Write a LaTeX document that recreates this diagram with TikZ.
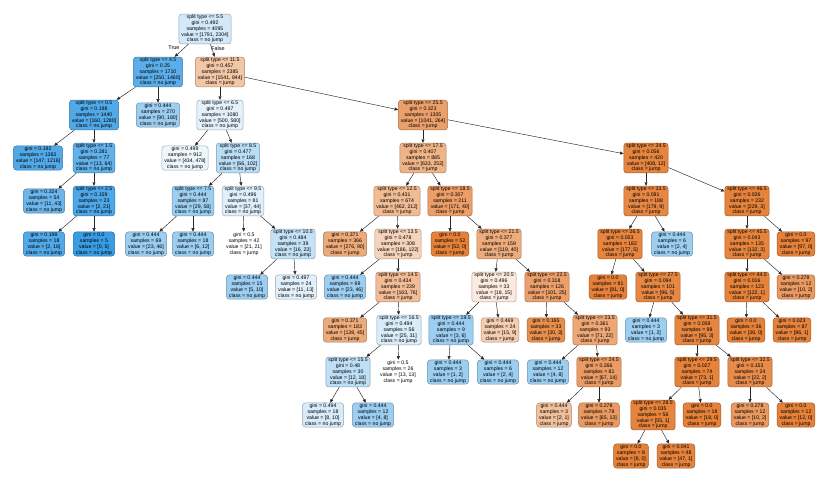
\documentclass[tikz,border=0pt]{standalone}
\usepackage{fontspec}
\setmainfont{Liberation Sans}
\usetikzlibrary{arrows.meta}
\definecolor{jc}{RGB}{229,129,57}
\definecolor{nc}{RGB}{57,157,229}
\newcommand\splitT[5]{split type <= #1\\gini = #2\\samples = #3\\value = [#4]\\class = #5}
\newcommand\leafT[4]{gini = #1\\samples = #2\\value = [#3]\\class = #4}
\tikzset{
  tn/.style={rectangle, rounded corners=3bp, align=center, font=\fontsize{5.2}{5.8}\selectfont, inner xsep=2.5bp, inner ysep=1bp, line width=0.5bp},
  jmp/.style={tn, fill=jc!#1!white, draw=jc!#1!white!70!black},
  nj/.style={tn, fill=nc!#1!white, draw=nc!#1!white!70!black},
  wn/.style={tn, fill=white, draw=white},
  ed/.style={-{Triangle[length=3.5bp,width=3bp]}, draw=black!85, line width=0.45bp},
  lab/.style={font=\fontsize{5.5}{6}\selectfont, inner sep=0pt},
}
\begin{document}
\begin{tikzpicture}[x=1bp,y=-1bp]
\useasboundingbox[fill=white] (0,0) rectangle (830,482);
% row 0
\node[nj=22] (root) at (205,29) {\splitT{5.5}{0.492}{4095}{1791, 2304}{no jump}};
% row 1
\node[nj=83] (n45) at (158,72) {\splitT{4.5}{0.25}{1710}{250, 1460}{no jump}};
\node[jmp=45] (n115) at (220,72) {\splitT{11.5}{0.457}{2385}{1541, 844}{jump}};
% row 2
\node[nj=88] (n05) at (94,115) {\splitT{0.5}{0.198}{1440}{160, 1280}{no jump}};
\node[nj=50] (l270) at (158,115) {\leafT{0.444}{270}{90, 180}{no jump}};
\node[nj=14] (n65) at (220,115) {\splitT{6.5}{0.497}{1080}{500, 580}{no jump}};
\node[jmp=75] (n255) at (423,115) {\splitT{25.5}{0.323}{1305}{1041, 264}{jump}};
% row 3
\node[nj=88] (l1363) at (38,158) {\leafT{0.192}{1363}{147, 1216}{no jump}};
\node[nj=80] (n15) at (94,158) {\splitT{1.5}{0.281}{77}{13, 64}{no jump}};
\node[nj=9] (l912) at (185,158) {\leafT{0.499}{912}{434, 478}{no jump}};
\node[nj=35] (n85) at (238,158) {\splitT{8.5}{0.477}{168}{66, 102}{no jump}};
\node[jmp=60] (n175) at (423,158) {\splitT{17.5}{0.407}{885}{633, 252}{jump}};
\node[jmp=97] (n345) at (646,158) {\splitT{34.5}{0.056}{420}{408, 12}{jump}};
% row 4
\node[nj=74] (l54) at (44,201) {\leafT{0.324}{54}{11, 43}{no jump}};
\node[nj=90] (n25) at (94,201) {\splitT{2.5}{0.159}{23}{2, 21}{no jump}};
\node[nj=50] (n75) at (193,201) {\splitT{7.5}{0.444}{87}{29, 58}{no jump}};
\node[nj=16] (n95) at (243,201) {\splitT{9.5}{0.496}{81}{37, 44}{no jump}};
\node[jmp=54] (n125) at (397,201) {\splitT{12.5}{0.431}{674}{462, 212}{jump}};
\node[jmp=77] (n185) at (450,201) {\splitT{18.5}{0.307}{211}{171, 40}{jump}};
\node[jmp=95] (n335) at (646,201) {\splitT{33.5}{0.091}{188}{179, 9}{jump}};
\node[jmp=99] (n465) at (747,201) {\splitT{46.5}{0.026}{232}{229, 3}{jump}};
% row 5
\node[nj=88] (l18a) at (44,244) {\leafT{0.198}{18}{2, 16}{no jump}};
\node[nj=100] (l5) at (94,244) {\leafT{0.0}{5}{0, 5}{no jump}};
\node[nj=50] (l69a) at (146,244) {\leafT{0.444}{69}{23, 46}{no jump}};
\node[nj=50] (l18b) at (193,244) {\leafT{0.444}{18}{6, 12}{no jump}};
\node[wn] (l42) at (244,244) {\leafT{0.5}{42}{21, 21}{jump}};
\node[nj=30] (n105) at (293,244) {\splitT{10.5}{0.484}{39}{16, 23}{no jump}};
\node[jmp=67] (l366) at (345,244) {\leafT{0.371}{366}{276, 90}{jump}};
\node[jmp=34] (n135) at (398,244) {\splitT{13.5}{0.478}{308}{186, 122}{jump}};
\node[jmp=100] (l52) at (450,244) {\leafT{0.0}{52}{52, 0}{jump}};
\node[jmp=66] (n215) at (499,244) {\splitT{21.5}{0.377}{159}{119, 40}{jump}};
\node[jmp=97] (n265) at (620,244) {\splitT{26.5}{0.053}{182}{177, 5}{jump}};
\node[nj=50] (l6b) at (672,244) {\leafT{0.444}{6}{2, 4}{no jump}};
\node[jmp=98] (n455) at (747,244) {\splitT{45.5}{0.043}{135}{132, 3}{jump}};
\node[jmp=100] (l97) at (796,244) {\leafT{0.0}{97}{97, 0}{jump}};
% row 6
\node[nj=50] (l15) at (247,287) {\leafT{0.444}{15}{5, 10}{no jump}};
\node[nj=15] (l24) at (296,287) {\leafT{0.497}{24}{11, 13}{no jump}};
\node[nj=50] (l69b) at (345,287) {\leafT{0.444}{69}{23, 46}{no jump}};
\node[jmp=53] (n145) at (398,287) {\splitT{14.5}{0.434}{239}{163, 76}{jump}};
\node[jmp=17] (n205) at (494,287) {\splitT{20.5}{0.496}{33}{18, 15}{jump}};
\node[jmp=75] (n225) at (547,287) {\splitT{22.5}{0.318}{126}{101, 25}{jump}};
\node[jmp=100] (l81) at (608,287) {\leafT{0.0}{81}{81, 0}{jump}};
\node[jmp=95] (n275) at (658,287) {\splitT{27.5}{0.094}{101}{96, 5}{jump}};
\node[jmp=99] (n445) at (747,287) {\splitT{44.5}{0.016}{123}{122, 1}{jump}};
\node[jmp=80] (l12a) at (796,287) {\leafT{0.278}{12}{10, 2}{jump}};
% row 7
\node[jmp=67] (l183) at (345,330) {\leafT{0.371}{183}{138, 45}{jump}};
\node[nj=19] (n165) at (399,330) {\splitT{16.5}{0.494}{56}{25, 31}{no jump}};
\node[nj=50] (n195) at (451,330) {\splitT{19.5}{0.444}{9}{3, 6}{no jump}};
\node[jmp=40] (l469) at (500,330) {\leafT{0.469}{24}{15, 9}{jump}};
\node[jmp=90] (l165) at (546,330) {\leafT{0.165}{33}{30, 3}{jump}};
\node[jmp=69] (n235) at (595,330) {\splitT{23.5}{0.361}{93}{71, 22}{jump}};
\node[nj=50] (l3c) at (646,330) {\leafT{0.444}{3}{1, 2}{no jump}};
\node[jmp=97] (n315) at (697,330) {\splitT{31.5}{0.059}{98}{95, 3}{jump}};
\node[jmp=100] (l36) at (746,330) {\leafT{0.0}{36}{36, 0}{jump}};
\node[jmp=99] (l87) at (792,330) {\leafT{0.023}{87}{86, 1}{jump}};
% row 8
\node[nj=33] (n155) at (348,372) {\splitT{15.5}{0.48}{30}{12, 18}{no jump}};
\node[wn] (l26) at (398,372) {\leafT{0.5}{26}{13, 13}{jump}};
\node[nj=50] (l3a) at (448,372) {\leafT{0.444}{3}{1, 2}{no jump}};
\node[nj=50] (l6a) at (498,372) {\leafT{0.444}{6}{2, 4}{no jump}};
\node[nj=50] (l12b) at (548,372) {\leafT{0.444}{12}{4, 8}{no jump}};
\node[jmp=79] (n245) at (599,372) {\splitT{24.5}{0.266}{81}{67, 14}{jump}};
\node[jmp=99] (n295) at (697,372) {\splitT{29.5}{0.027}{74}{73, 1}{jump}};
\node[jmp=91] (n325) at (750,372) {\splitT{32.5}{0.153}{24}{22, 2}{jump}};
% row 9
\node[nj=20] (l18c) at (323,415) {\leafT{0.494}{18}{8, 10}{no jump}};
\node[nj=50] (l12c) at (373,415) {\leafT{0.444}{12}{4, 8}{no jump}};
\node[jmp=50] (l3b) at (554,415) {\leafT{0.444}{3}{2, 1}{jump}};
\node[jmp=80] (l78) at (599,415) {\leafT{0.278}{78}{65, 13}{jump}};
\node[jmp=98] (n285) at (653,415) {\splitT{28.5}{0.035}{56}{55, 1}{jump}};
\node[jmp=100] (l18d) at (702,415) {\leafT{0.0}{18}{18, 0}{jump}};
\node[jmp=80] (l12d) at (750,415) {\leafT{0.278}{12}{10, 2}{jump}};
\node[jmp=100] (l12e) at (796,415) {\leafT{0.0}{12}{12, 0}{jump}};
% row 10
\node[jmp=100] (l8) at (631,456) {\leafT{0.0}{8}{8, 0}{jump}};
\node[jmp=98] (l48) at (676,456) {\leafT{0.041}{48}{47, 1}{jump}};
% labels
\node[lab] (tlab) at (174,48) {True};
\node[lab] (flab) at (218,49) {False};
% edges
\foreach \a/\b in {root/n45, root/n115, n45/n05, n45/l270, n05/l1363, n05/n15, n15/l54, n15/n25,
  n25/l18a, n25/l5, n115/n65, n115/n255, n65/l912, n65/n85, n85/n75, n85/n95, n75/l69a, n75/l18b,
  n95/l42, n95/n105, n105/l15, n105/l24, n255/n175, n255/n345, n175/n125, n175/n185,
  n125/l366, n125/n135, n135/l69b, n135/n145, n145/l183, n145/n165, n165/n155, n165/l26,
  n155/l18c, n155/l12c, n185/l52, n185/n215, n215/n205, n215/n225, n205/n195, n205/l469,
  n195/l3a, n195/l6a, n225/l165, n225/n235, n235/l12b, n235/n245, n245/l3b, n245/l78,
  n345/n335, n345/n465, n335/n265, n335/l6b, n265/l81, n265/n275, n275/l3c, n275/n315,
  n315/n295, n315/n325, n295/n285, n295/l18d, n285/l8, n285/l48, n325/l12d, n325/l12e,
  n465/n455, n465/l97, n455/n445, n455/l12a, n445/l36, n445/l87}
  \draw[ed] (\a) -- (\b);
\end{tikzpicture}
\end{document}
